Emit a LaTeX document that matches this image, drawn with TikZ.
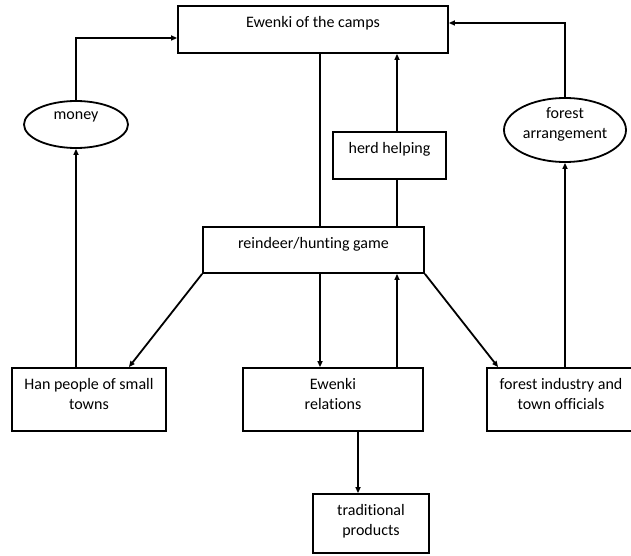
\documentclass[tikz,border=0pt]{standalone}
\usepackage{fontspec}
\setmainfont{Carlito}[Ligatures={NoCommon}]
\usetikzlibrary{shapes.geometric,positioning,arrows.meta}

\begin{document}
\begin{tikzpicture}[x=1pt,y=-1pt,line width=1.8pt,
	box/.style={draw=black,rectangle,inner sep=0pt},
	oval/.style={draw=black,ellipse,inner sep=0pt},
	txt/.style={inner sep=0pt,align=center,font=\fontsize{16}{20}\selectfont},
	arr/.style={-{Triangle[length=6pt,width=5pt]}}]
	\useasboundingbox (0,0) rectangle (631,556);
	\node[box,minimum width=270pt,minimum height=47pt] (camps) at (313,29.5) {};
	\node[txt,below=10pt of camps.north] (campsT) {Ewenki of the camps};
	\node[box,minimum width=113pt,minimum height=47pt] (herd) at (389.5,155.5) {};
	\node[txt,below=10pt of herd.north] (herdT) {herd helping};
	\node[box,minimum width=221pt,minimum height=46pt] (reindeer) at (313.5,250) {};
	\node[txt,below=10pt of reindeer.north] (reindeerT) {reindeer/hunting game};
	\node[oval,minimum width=104pt,minimum height=47pt] (money) at (76,124.5) {};
	\node[txt,below=11pt of money.north] (moneyT) {money};
	\node[oval,minimum width=122pt,minimum height=64pt] (forest) at (565,130) {};
	\node[txt,below=10pt of forest.north] (forestT) {forest\\arrangement};
	\node[box,minimum width=154pt,minimum height=63pt] (han) at (89,399.5) {};
	\node[txt,below=10pt of han.north] (hanT) {Han people of small\\towns};
	\node[box,minimum width=180pt,minimum height=63pt] (relations) at (333,399.5) {};
	\node[txt,below=10pt of relations.north] (relationsT) {Ewenki\\relations};
	\node[box,minimum width=148pt,minimum height=63pt] (industry) at (561,399.5) {};
	\node[txt,below=10pt of industry.north] (industryT) {forest industry and\\town officials};
	\node[box,minimum width=116pt,minimum height=59pt] (products) at (371,523.5) {};
	\node[txt,below=10pt of products.north] (productsT) {traditional\\products};
	\coordinate (colA) at (320,0);
	\coordinate (colB) at (397,0);
	\coordinate (colC) at (358,0);
	\draw (colA |- camps.south) -- (colA |- reindeer.north);
	\draw[arr] (colB |- herd.north) -- (colB |- camps.south);
	\draw (colB |- reindeer.north) -- (colB |- herd.south);
	\draw[arr] (colA |- reindeer.south) -- (colA |- relations.north);
	\draw[arr] (colB |- relations.north) -- (colB |- reindeer.south);
	\draw[arr] (colC |- relations.south) -- (colC |- products.north);
	\draw[arr] (money.south |- han.north) -- (money.south);
	\draw[arr] (money.north) |- ([yshift=-8.5pt]camps.west);
	\draw[arr] (forest.south |- industry.north) -- (forest.south);
	\draw[arr] (forest.north) |- ([yshift=6.5pt]camps.east);
	\draw[arr] (reindeer.south west) -- ([xshift=-38pt]han.north east);
	\draw[arr] (reindeer.south east) -- ([xshift=12pt]industry.north west);
\end{tikzpicture}
\end{document}
